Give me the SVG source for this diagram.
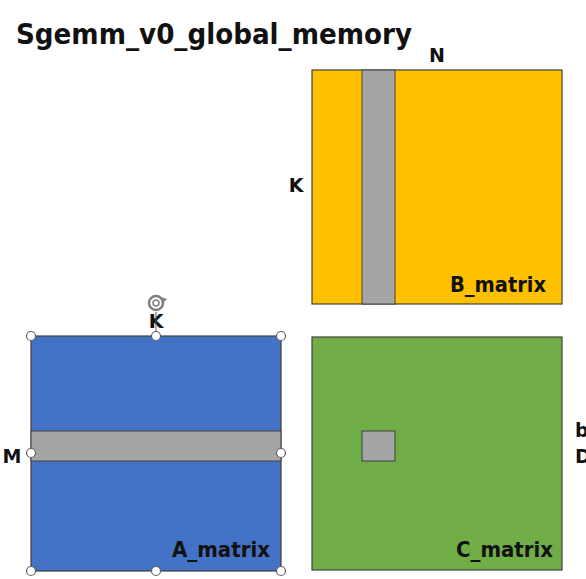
<svg xmlns="http://www.w3.org/2000/svg" width="586" height="579" viewBox="0 0 586 579">
<style>
.t{font-family:"DejaVu Sans","Liberation Sans",sans-serif;font-weight:bold;fill:#111}
.lbl{font-size:22px}
.box{stroke:#404040;stroke-width:1.2}
.gray{fill:#A5A5A5;stroke:#404040;stroke-width:1}
.h{fill:#fff;stroke:#606060;stroke-width:1.2}
</style>
<rect width="586" height="579" fill="#fff"/>
<text class="t" x="16" y="44" font-size="29" textLength="396" lengthAdjust="spacingAndGlyphs">Sgemm_v0_global_memory</text>
<g id="B_matrix">
<rect class="box" x="312" y="70" width="250" height="234" fill="#FFC000"/>
<rect class="gray" x="362" y="70" width="33" height="234"/>
<text class="t lbl" x="546" y="292" text-anchor="end" textLength="96" lengthAdjust="spacingAndGlyphs">B_matrix</text>
</g>
<g id="labels">
<text class="t" x="437" y="62" font-size="19" text-anchor="middle">N</text>
<text class="t" x="296" y="192" font-size="19" text-anchor="middle">K</text>
<text class="t" x="156" y="328" font-size="19" text-anchor="middle">K</text>
<text class="t" x="12" y="463" font-size="19" text-anchor="middle">M</text>
<text class="t" x="575" y="437" font-size="19">b</text>
<text class="t" x="575" y="463" font-size="19">D</text>
</g>
<g id="A_matrix">
<rect class="box" x="31" y="336" width="250" height="235" fill="#4472C4"/>
<rect class="gray" x="31" y="431" width="250" height="30"/>
<text class="t lbl" x="270" y="557" text-anchor="end" textLength="98" lengthAdjust="spacingAndGlyphs">A_matrix</text>
</g>
<g id="C_matrix">
<rect class="box" x="312" y="337" width="250" height="233" fill="#70AD47"/>
<rect class="gray" x="362" y="431" width="33" height="30"/>
<text class="t lbl" x="553" y="557" text-anchor="end" textLength="97" lengthAdjust="spacingAndGlyphs">C_matrix</text>
</g>
<g id="selection">
<line x1="156" y1="312" x2="156" y2="336" stroke="#606060" stroke-width="1"/>
<circle cx="156" cy="303" r="7" fill="#fff" stroke="#808080" stroke-width="2.5"/>
<circle cx="156" cy="303" r="3" fill="none" stroke="#808080" stroke-width="1.5"/>
<path d="M161 297 l6 2 l-4 4 z" fill="#808080"/>
<circle class="h" cx="31" cy="336" r="4.5"/>
<circle class="h" cx="156" cy="336" r="4.5"/>
<circle class="h" cx="281" cy="336" r="4.5"/>
<circle class="h" cx="31" cy="453" r="4.5"/>
<circle class="h" cx="281" cy="453" r="4.5"/>
<circle class="h" cx="31" cy="571" r="4.5"/>
<circle class="h" cx="156" cy="571" r="4.5"/>
<circle class="h" cx="281" cy="571" r="4.5"/>
</g>
</svg>
